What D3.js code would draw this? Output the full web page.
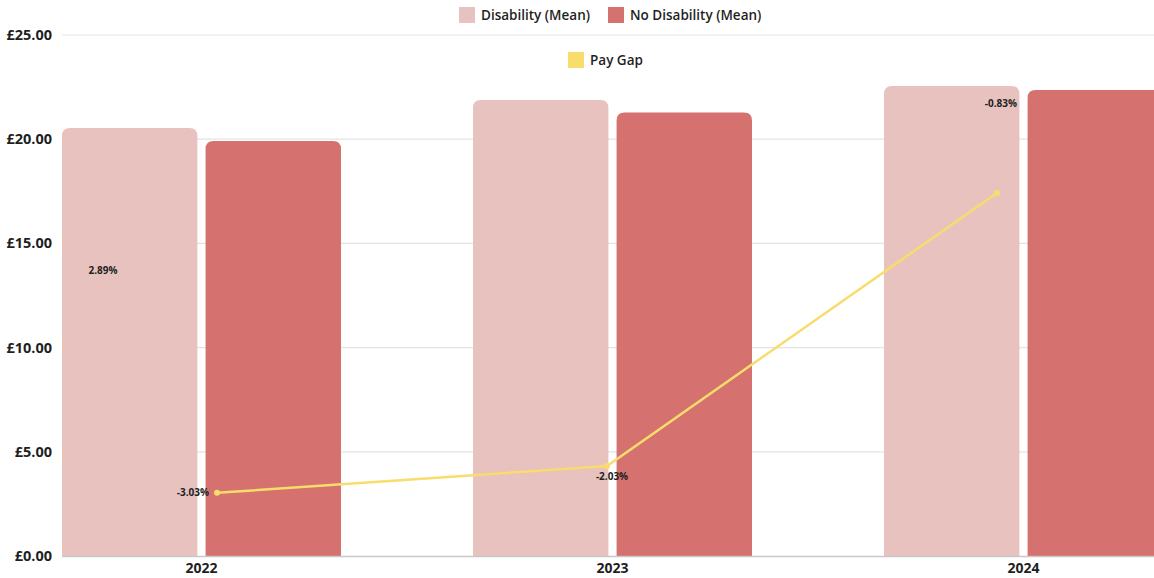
<!DOCTYPE html>
<html><head><meta charset="utf-8">
<script src="https://cdn.jsdelivr.net/npm/d3@7"></script>
<style>
html,body{margin:0;padding:0;background:#fff;overflow:hidden}
svg{display:block;font-family:"Open Sans",sans-serif}
</style></head>
<body>
<svg id="c" width="1154" height="578"></svg>
<script>
const categories = ["2022","2023","2024"];
const seriesNames = ["Disability (Mean)","No Disability (Mean)"];
const disabilityMean = [20.54, 21.88, 22.55];
const noDisabilityMean = [19.91, 21.28, 22.36];
const payGapLabels = ["-3.03%","-2.03%","-0.83%"];
const payGapPlotted = [3.03, 4.32, 17.42];
const payGapLabelPos = [3.03, 3.80, 21.70];
const strayLabel = {text:"2.89%", value:13.7};
const yTicks = [0,5,10,15,20,25];
const colors = ["#E8C2BE","#D5716E"];
const lineColor = "#F8DC6C";

(function(){
const svg = d3.select("#c");
const W = 1154, H = 578;
const mLeft = 62, mRight = 1163, mTop = 35, mBottom = 556;

const y = d3.scaleLinear().domain([0,25]).range([mBottom, mTop]);
const x0 = d3.scaleBand().domain(categories).range([mLeft, mRight]).paddingInner(0.3212).paddingOuter(0);
const x1 = d3.scaleBand().domain(seriesNames).range([0, x0.bandwidth()]).paddingInner(0.057);
const xl = d3.scalePoint().domain(categories).range([mLeft + 155, mLeft + 935]);

// gridlines
svg.append("g").selectAll("line").data(yTicks.filter(d=>d>0)).join("line")
  .attr("x1", mLeft).attr("x2", W).attr("y1", d=>y(d)).attr("y2", d=>y(d))
  .attr("stroke", "#e3e3e3").attr("stroke-width", 1.2);

// y tick labels
svg.append("g").selectAll("text").data(yTicks).join("text")
  .attr("x", 52).attr("y", d=>y(d)).attr("dy","0.35em").attr("text-anchor","end")
  .attr("font-size", 14.5).attr("font-weight", 700).attr("fill", "#1f1f1f")
  .text(d=>"£"+d.toFixed(2));

// bars
function topRounded(x, yTop, w, h, r){
  r = Math.min(r, w/2, h);
  return `M${x},${yTop+h}V${yTop+r}Q${x},${yTop} ${x+r},${yTop}H${x+w-r}Q${x+w},${yTop} ${x+w},${yTop+r}V${yTop+h}Z`;
}
const barData = [];
categories.forEach((c,i)=>{
  barData.push({c, s:seriesNames[0], v:disabilityMean[i], col:colors[0]});
  barData.push({c, s:seriesNames[1], v:noDisabilityMean[i], col:colors[1]});
});
svg.append("g").selectAll("path").data(barData).join("path")
  .attr("d", d=>topRounded(x0(d.c)+x1(d.s), y(d.v), x1.bandwidth(), y(0)-y(d.v), 8))
  .attr("fill", d=>d.col);

// baseline
svg.append("line").attr("x1", mLeft).attr("x2", W).attr("y1", mBottom+0.5).attr("y2", mBottom+0.5)
  .attr("stroke", "#c8c8c8").attr("stroke-width", 1.5);

// x labels
svg.append("g").selectAll("text").data(categories).join("text")
  .attr("x", d=>x0(d)+x0.bandwidth()/2).attr("y", 568).attr("dy","0.35em")
  .attr("text-anchor","middle").attr("font-size", 14).attr("font-weight", 700).attr("fill","#1f1f1f")
  .text(d=>d);

// pay gap line
const line = d3.line().x((d,i)=>xl(categories[i])).y(d=>y(d));
svg.append("path").datum(payGapPlotted).attr("d", line)
  .attr("fill","none").attr("stroke", lineColor).attr("stroke-width", 2.5);
svg.append("g").selectAll("circle").data(payGapPlotted).join("circle")
  .attr("cx",(d,i)=>xl(categories[i])).attr("cy", d=>y(d)).attr("r", 3).attr("fill", lineColor);

// pay gap labels
const lblAnchor = ["end","middle","end"];
const lblDx = [-8, 5, 20];
svg.append("g").selectAll("text").data(payGapLabelPos).join("text")
  .attr("x",(d,i)=>xl(categories[i]) + lblDx[i]).attr("y", d=>y(d)).attr("dy","0.35em")
  .attr("text-anchor",(d,i)=>lblAnchor[i])
  .attr("font-size", 10).attr("font-weight", 700).attr("fill","#222")
  .text((d,i)=>payGapLabels[i]);
svg.append("text").attr("x", x0(categories[0]) + 41).attr("y", y(strayLabel.value)).attr("dy","0.35em")
  .attr("text-anchor","middle").attr("font-size",10).attr("font-weight",700).attr("fill","#222")
  .text(strayLabel.text);

// legend
const lg = svg.append("g");
const items = [
  {name: seriesNames[0], col: colors[0], x: 459, y: 15},
  {name: seriesNames[1], col: colors[1], x: 608, y: 15},
  {name: "Pay Gap", col: lineColor, x: 568, y: 60}
];
items.forEach(it=>{
  lg.append("rect").attr("x", it.x).attr("y", it.y-8).attr("width",16).attr("height",16).attr("fill", it.col);
  lg.append("text").attr("x", it.x+22).attr("y", it.y).attr("dy","0.35em")
    .attr("font-size", 13.5).attr("font-weight", 600).attr("fill","#1f1f1f").text(it.name);
});
})();
</script>
</body></html>
